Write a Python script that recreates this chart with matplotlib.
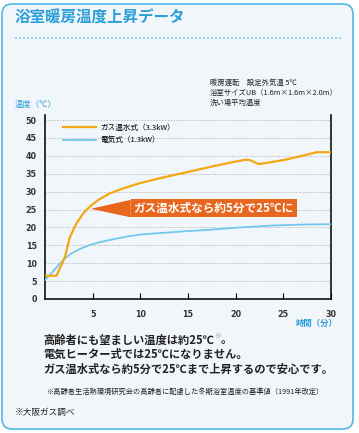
import matplotlib
matplotlib.use("Agg")
import matplotlib.pyplot as plt
from matplotlib.patches import FancyBboxPatch
from matplotlib.lines import Line2D

plt.rcParams['font.family'] = ['Noto Sans CJK JP', 'DejaVu Sans']

# データ
t_gas = [0, 1.2, 1.6, 2.1, 2.6, 3.3, 4.0, 4.7, 5.6, 6.8, 8.2, 10, 12, 14, 16, 18, 20, 21, 21.5, 22.4, 23, 25, 27, 28.5, 30]
v_gas = [6.5, 6.5, 8.8, 11.8, 17.2, 21.1, 23.9, 25.8, 27.7, 29.5, 30.9, 32.4, 33.7, 34.9, 36.1, 37.3, 38.4, 38.9, 38.8, 37.7, 37.9, 38.8, 40.0, 41.0, 41.0]

t_elec = [0, 0.7, 1.6, 2.2, 2.8, 3.6, 4.7, 5.8, 6.8, 8.5, 10, 12, 14, 17, 20, 23.6, 27, 30]
v_elec = [5.3, 7.3, 10.0, 11.6, 12.8, 13.9, 15.1, 15.9, 16.5, 17.4, 18.0, 18.4, 18.8, 19.3, 19.9, 20.5, 20.8, 20.9]

x_ticks = [5, 10, 15, 20, 25, 30]
y_ticks = [0, 5, 10, 15, 20, 25, 30, 35, 40, 45, 50]

gas_label = 'ガス温水式（3.3kW）'
elec_label = '電気式（1.3kW）'
callout_text = 'ガス温水式なら約5分で25℃に'
callout_point = (4.8, 25.2)

title = '浴室暖房温度上昇データ'
conditions = ['暖房運転　設定外気温 5℃', '浴室サイズUB（1.6m×1.6m×2.0m）', '洗い場平均温度']
message = ['高齢者にも望ましい温度は約25℃', '電気ヒーター式では25℃になりません。',
           'ガス温水式なら約5分で25℃まで上昇するので安心です。']
footnote = '※高齢者生活熱環境研究会の高齢者に配慮した冬期浴室温度の基準値（1991年改定）'
source = '※大阪ガス調べ'

ORANGE = '#f3a712'
BLUE = '#74c7ec'
CALLOUT = '#e8661e'
TITLE_BLUE = '#2a9fd8'
TEXT = '#222222'

W, H = 359, 433
fig = plt.figure(figsize=(W / 100, H / 100), dpi=100, facecolor='white')

# 外枠（角丸）
box = FancyBboxPatch((0.12, 0.14), (W - 6) / 100 - 0.22, (H - 6) / 100 - 0.22,
                     boxstyle='round,pad=0.1', transform=fig.dpi_scale_trans,
                     fc='#f1f6fb', ec='#55b6e4', lw=1.2, zorder=-5)
fig.patches.append(box)

def fx(px):
    return px / W

def fy(py):
    return 1 - py / H

fig.text(fx(15), fy(18), title, fontsize=11.2, fontweight='bold', color=TITLE_BLUE, va='center')
fig.add_artist(Line2D([fx(15), fx(343)], [fy(38), fy(38)], color='#86cdee', lw=1.2,
                      linestyle=(0, (1.2, 1.2))))

for i, line in enumerate(conditions):
    fig.text(fx(210), fy(83 + 10 * i), line, fontsize=5.3, color=TEXT, va='center')

ax = fig.add_axes([fx(45), fy(299), fx(331) - fx(45), fy(115) - fy(299)])
ax.set_facecolor('none')
ax.set_xlim(0, 30)
ax.set_ylim(0, 51.4)
ax.set_xticks(x_ticks)
ax.set_yticks(y_ticks)
ax.tick_params(axis='x', direction='in', length=4, width=0.8, pad=8, labelsize=5.8, labelcolor='#333333')
ax.tick_params(axis='y', length=0, pad=6, labelsize=5.8, labelcolor='#333333')
for lbl in ax.get_xticklabels() + ax.get_yticklabels():
    lbl.set_family('DejaVu Sans')
    lbl.set_fontweight('bold')
ax.spines['top'].set_visible(False)
for s in ['left', 'right', 'bottom']:
    ax.spines[s].set_linewidth(1.2)
    ax.spines[s].set_color('#111111')
for yv in y_ticks[1:]:
    ax.axhline(yv, color='#aaaaaa', lw=0.6, linestyle=(0, (1.5, 2)), zorder=0)

ax.plot(t_elec, v_elec, color=BLUE, lw=1.3, label=elec_label, zorder=3)
ax.plot(t_gas, v_gas, color=ORANGE, lw=1.6, label=gas_label, zorder=4)
handles, labels = ax.get_legend_handles_labels()
leg = ax.legend(handles[::-1], labels[::-1], loc='upper left', bbox_to_anchor=(0.04, 0.99),
                frameon=False, fontsize=5.5, handlelength=4.3, handletextpad=0.6,
                labelspacing=0.6)

ax.annotate(callout_text, xy=callout_point, xytext=(17.7, 25.4), fontsize=8.4,
            fontweight='bold', color='white', ha='center', va='center', zorder=6,
            bbox=dict(boxstyle='square,pad=0.25', fc=CALLOUT, ec='none'),
            arrowprops=dict(arrowstyle='wedge,tail_width=1.5,shrink_factor=0.5',
                            fc=CALLOUT, ec='none', shrinkA=0, shrinkB=0))

fig.text(fx(15), fy(104), '温度（℃）', fontsize=6, color=TITLE_BLUE, va='center')
fig.text(fx(337), fy(323), '時間（分）', fontsize=6, color=TITLE_BLUE, va='center', ha='right',
         fontweight='bold')

MSG_FS = 8.1
t1 = fig.text(fx(43), fy(340), message[0], fontsize=MSG_FS, fontweight='bold', color=TEXT, va='center')
fig.canvas.draw()
bb = t1.get_window_extent()
fig.text(bb.x1 / W, fy(336), '※', fontsize=5, color='#999999', va='center')
fig.text(bb.x1 / W + fx(7), fy(340), '。', fontsize=MSG_FS, fontweight='bold', color=TEXT, va='center')
fig.text(fx(43), fy(354.5), message[1], fontsize=MSG_FS, fontweight='bold', color=TEXT, va='center')
fig.text(fx(43), fy(369), message[2], fontsize=MSG_FS, fontweight='bold', color=TEXT, va='center')
fig.text(fx(47), fy(392), footnote, fontsize=5.2, color=TEXT, va='center')
fig.text(fx(15), fy(412), source, fontsize=6.2, color=TEXT, va='center')

fig.savefig('out.png', dpi=100, facecolor='white')
